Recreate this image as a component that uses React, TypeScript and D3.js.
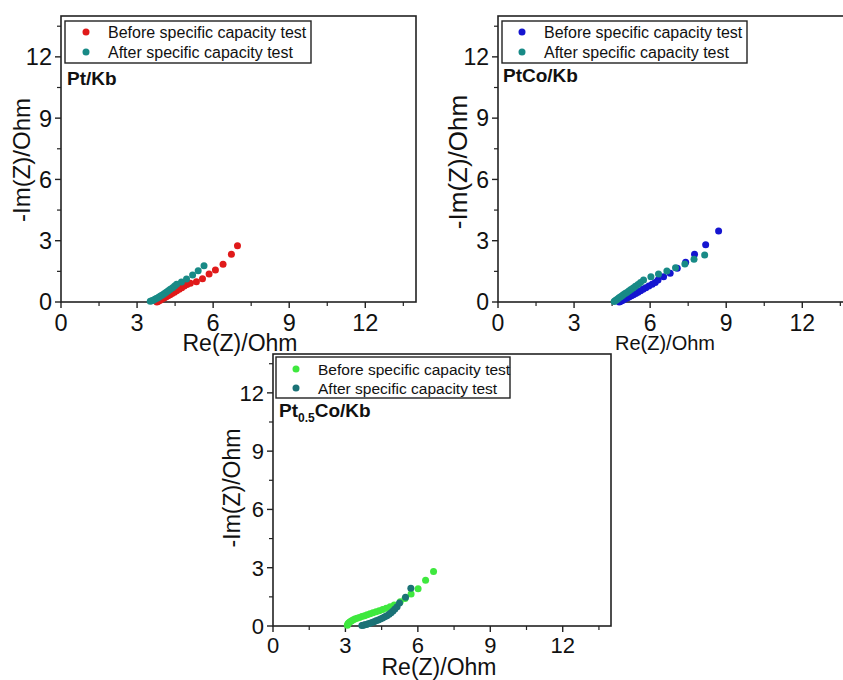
import React from 'react';
import * as d3 from 'd3';

type Pt = [number, number];

const majorTicks = [0, 3, 6, 9, 12];
const minorTicks = [1.5, 4.5, 7.5, 10.5, 13.5];
const axisMax = 14;
const legendLabels = ['Before specific capacity test', 'After specific capacity test'];
const xTitle = 'Re(Z)/Ohm';
const yTitle = '-Im(Z)/Ohm';

// Pt/Kb
const ptBefore: Pt[] = [
  [3.78, 0.0], [3.82, 0.03], [3.86, 0.06], [3.91, 0.09], [3.96, 0.13], [4.02, 0.17],
  [4.08, 0.21], [4.15, 0.26], [4.22, 0.31], [4.3, 0.36], [4.38, 0.42], [4.47, 0.48],
  [4.56, 0.55], [4.66, 0.62], [4.76, 0.7], [4.86, 0.78], [4.97, 0.86], [5.1, 0.92],
  [5.34, 0.99], [5.58, 1.14], [5.84, 1.37], [6.09, 1.57], [6.39, 1.85], [6.72, 2.34], [6.96, 2.75],
];
const ptAfter: Pt[] = [
  [3.52, 0.04], [3.58, 0.06], [3.64, 0.09], [3.7, 0.13], [3.76, 0.17], [3.82, 0.21],
  [3.88, 0.26], [3.94, 0.31], [4.01, 0.36], [4.08, 0.42], [4.15, 0.48], [4.23, 0.55],
  [4.31, 0.62], [4.4, 0.7], [4.48, 0.78], [4.56, 0.87], [4.75, 0.98], [4.95, 1.13],
  [5.19, 1.32], [5.41, 1.53], [5.64, 1.78],
];

// PtCo/Kb
const ptcoBefore: Pt[] = [
  [4.78, 0.0], [4.82, 0.03], [4.87, 0.06], [4.92, 0.09], [4.98, 0.13], [5.04, 0.17],
  [5.11, 0.21], [5.18, 0.26], [5.26, 0.31], [5.34, 0.36], [5.43, 0.42], [5.52, 0.48],
  [5.62, 0.55], [5.72, 0.62], [5.83, 0.7], [5.95, 0.78], [6.08, 0.87], [6.2, 0.96],
  [6.31, 1.08], [6.53, 1.24], [6.79, 1.41], [7.07, 1.65], [7.4, 1.95], [7.75, 2.34],
  [8.19, 2.8], [8.7, 3.48],
];
const ptcoAfter: Pt[] = [
  [4.58, 0.02], [4.62, 0.06], [4.66, 0.1], [4.71, 0.14], [4.76, 0.19], [4.82, 0.24],
  [4.88, 0.29], [4.94, 0.35], [5.01, 0.41], [5.08, 0.47], [5.16, 0.54], [5.24, 0.61],
  [5.33, 0.69], [5.42, 0.77], [5.52, 0.86], [5.62, 0.95], [5.74, 1.08], [6.03, 1.24],
  [6.33, 1.37], [6.66, 1.52], [7.0, 1.68], [7.37, 1.86], [7.73, 2.09], [8.15, 2.3],
];

// Pt0.5Co/Kb
const pt05Before: Pt[] = [
  [3.08, 0.04], [3.1, 0.1], [3.13, 0.16], [3.18, 0.21], [3.24, 0.26], [3.31, 0.31],
  [3.39, 0.36], [3.48, 0.4], [3.58, 0.44], [3.68, 0.49], [3.79, 0.53], [3.9, 0.58],
  [4.02, 0.63], [4.14, 0.68], [4.27, 0.73], [4.4, 0.79], [4.54, 0.85], [4.69, 0.92],
  [4.85, 0.99], [5.02, 1.08], [5.27, 1.25], [5.47, 1.42], [5.72, 1.65], [6.01, 1.92],
  [6.32, 2.35], [6.65, 2.81],
];
const pt05After: Pt[] = [
  [3.68, 0.02], [3.74, 0.04], [3.8, 0.06], [3.87, 0.08], [3.94, 0.11], [4.02, 0.14],
  [4.1, 0.18], [4.18, 0.22], [4.27, 0.27], [4.36, 0.31], [4.45, 0.36], [4.54, 0.41],
  [4.63, 0.47], [4.72, 0.53], [4.81, 0.6], [4.89, 0.68], [4.97, 0.77], [5.05, 0.87],
  [5.14, 0.99], [5.24, 1.18], [5.49, 1.48], [5.71, 1.94],
];

const FONT = '"Liberation Sans", Arial, Helvetica, sans-serif';
const AXIS = '#222';
const R = 3.5;

interface PanelProps {
  left: number; top: number; width: number; height: number;
  before: Pt[]; after: Pt[];
  beforeColor: string; afterColor: string;
  label: React.ReactNode;
  labelPos: [number, number];
  legendBox: [number, number, number, number];
  legendFont: number;
  legendMarkerX: number;
  legendRows: [number, number];
  tickFont: number; tickOffset: number;
  xTitlePos: [number, number]; xTitleFont: number;
  yTitlePos: [number, number]; yTitleFont: number;
}

function Panel(p: PanelProps) {
  const xs = d3.scaleLinear().domain([0, axisMax]).range([p.left, p.left + p.width]);
  const ys = d3.scaleLinear().domain([0, axisMax]).range([p.top + p.height, p.top]);
  const bottom = p.top + p.height;
  const [lx, ly, lw, lh] = p.legendBox;
  return (
    <g fontFamily={FONT}>
      <rect x={p.left} y={p.top} width={p.width} height={p.height} fill="none" stroke={AXIS} strokeWidth={1.6} />
      {majorTicks.map((t) => (
        <g key={'xm' + t}>
          <line x1={xs(t)} x2={xs(t)} y1={bottom} y2={bottom + 6} stroke={AXIS} strokeWidth={1.4} />
          <text x={xs(t)} y={bottom + p.tickOffset} fontSize={p.tickFont} textAnchor="middle" fill="#111">{t}</text>
          <line x1={p.left} x2={p.left - 6} y1={ys(t)} y2={ys(t)} stroke={AXIS} strokeWidth={1.4} />
          <text x={p.left - 9} y={ys(t)} dy="0.36em" fontSize={p.tickFont} textAnchor="end" fill="#111">{t}</text>
        </g>
      ))}
      {minorTicks.map((t) => (
        <g key={'xn' + t}>
          <line x1={xs(t)} x2={xs(t)} y1={bottom} y2={bottom + 4} stroke={AXIS} strokeWidth={1.2} />
          <line x1={p.left} x2={p.left - 4} y1={ys(t)} y2={ys(t)} stroke={AXIS} strokeWidth={1.2} />
        </g>
      ))}
      {p.before.map((d, i) => (
        <circle key={'b' + i} cx={xs(d[0])} cy={ys(d[1])} r={R} fill={p.beforeColor} />
      ))}
      {p.after.map((d, i) => (
        <circle key={'a' + i} cx={xs(d[0])} cy={ys(d[1])} r={R} fill={p.afterColor} />
      ))}
      <rect x={lx} y={ly} width={lw} height={lh} fill="white" stroke={AXIS} strokeWidth={1.4} />
      {legendLabels.map((s, i) => (
        <g key={s}>
          <circle cx={p.legendMarkerX} cy={p.legendRows[i]} r={R} fill={i === 0 ? p.beforeColor : p.afterColor} />
          <text x={p.legendMarkerX + 22} y={p.legendRows[i]} dy="0.36em" fontSize={p.legendFont} fill="#111">{s}</text>
        </g>
      ))}
      <text x={p.labelPos[0]} y={p.labelPos[1]} fontSize={19} fontWeight="bold" fill="#111">{p.label}</text>
      <text x={p.xTitlePos[0]} y={p.xTitlePos[1]} fontSize={p.xTitleFont} textAnchor="middle" fill="#111">{xTitle}</text>
      <text transform={`translate(${p.yTitlePos[0]},${p.yTitlePos[1]}) rotate(-90)`} fontSize={p.yTitleFont} textAnchor="middle" fill="#111">{yTitle}</text>
    </g>
  );
}

export default function App() {
  return (
    <svg width={843} height={680} style={{ position: 'absolute', left: 0, top: 0, background: 'white' }}>
      <rect width={843} height={680} fill="white" />
      <Panel
        left={61} top={16} width={355} height={286}
        before={ptBefore} after={ptAfter}
        beforeColor="#e01a1a" afterColor="#188a86"
        label="Pt/Kb" labelPos={[67, 85]}
        legendBox={[65, 21, 246, 42]} legendFont={16} legendMarkerX={86} legendRows={[32, 52]}
        tickFont={23.5} tickOffset={29}
        xTitlePos={[240, 351]} xTitleFont={23}
        yTitlePos={[30, 160]} yTitleFont={24}
      />
      <Panel
        left={498} top={16} width={355} height={286}
        before={ptcoBefore} after={ptcoAfter}
        beforeColor="#1515d0" afterColor="#188a86"
        label="PtCo/Kb" labelPos={[503, 82]}
        legendBox={[502, 21, 245, 42]} legendFont={16} legendMarkerX={522} legendRows={[32, 52]}
        tickFont={23} tickOffset={29}
        xTitlePos={[665, 350]} xTitleFont={20}
        yTitlePos={[467, 162]} yTitleFont={26}
      />
      <Panel
        left={273} top={354} width={338} height={272}
        before={pt05Before} after={pt05After}
        beforeColor="#3ee83e" afterColor="#1b7276"
        label={<>Pt<tspan fontSize={12} dy={5}>0.5</tspan><tspan dy={-5}>Co/Kb</tspan></>}
        labelPos={[279, 417]}
        legendBox={[276, 357, 234, 41]} legendFont={15.5} legendMarkerX={296} legendRows={[369, 388]}
        tickFont={22} tickOffset={27}
        xTitlePos={[439, 675]} xTitleFont={23}
        yTitlePos={[240, 488]} yTitleFont={23}
      />
    </svg>
  );
}
